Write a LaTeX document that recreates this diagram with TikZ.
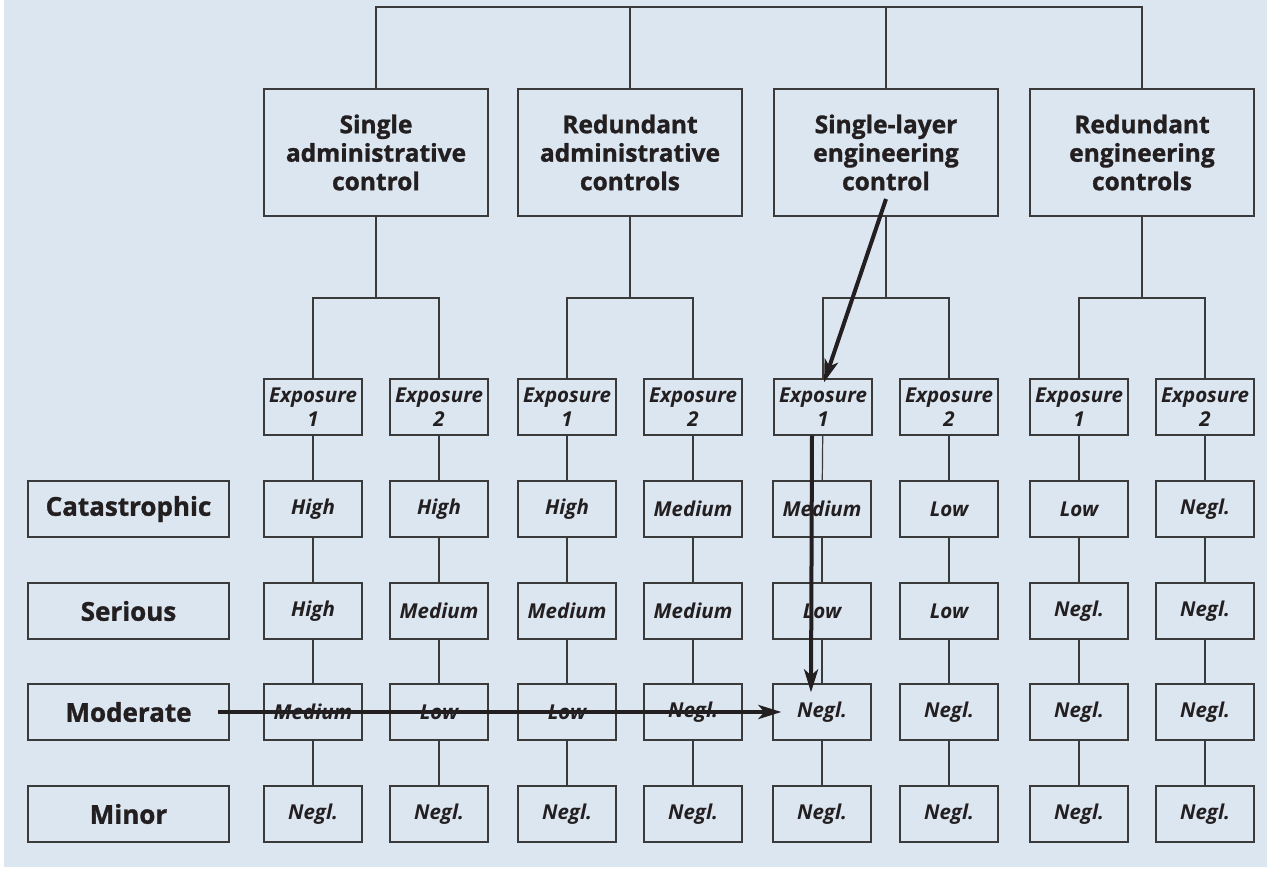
\documentclass[tikz,border=0pt]{standalone}
\usepackage{fontspec}
\setmainfont{Open Sans}[BoldFeatures={FakeBold=1.2}]
\usetikzlibrary{arrows.meta}
\definecolor{bg}{HTML}{DCE6F1}
\definecolor{ln}{HTML}{3A3A3A}
\definecolor{ar}{HTML}{231F20}
\begin{document}
\begin{tikzpicture}[x=1pt,y=-1pt,
  box/.style={draw=ln, line width=1.2pt, inner sep=0pt, align=center, text=ar},
  topbox/.style={box, minimum width=224pt, minimum height=127pt, font=\fontsize{24.5}{28.5}\selectfont\bfseries},
  expbox/.style={box, minimum width=98pt, minimum height=56pt, font=\fontsize{20.5}{24}\selectfont\bfseries\itshape},
  cellbox/.style={box, minimum width=98pt, minimum height=56pt, font=\fontsize{20.5}{24}\selectfont\bfseries\itshape},
  labbox/.style={box, minimum width=201pt, minimum height=56pt, font=\fontsize{26}{30}\selectfont\bfseries},
  conn/.style={draw=ln, line width=1.2pt},
  bigarrow/.style={draw=ar, line width=4pt, -{Stealth[length=23pt,width=14pt,inset=6pt]}}]
\useasboundingbox (0,0) rectangle (1267,868);
\fill[bg] (4,0) rectangle (1267,867);
% top boxes
\node[topbox] (t1) at (376,152.5) {Single\\administrative\\control};
\node[topbox] (t2) at (630,152.5) {Redundant\\administrative\\controls};
\node[topbox] (t3) at (886,152.5) {Single-layer\\engineering\\control};
\node[topbox] (t4) at (1142,152.5) {Redundant\\engineering\\controls};
\draw[conn] (t1.north) -- (t1.north |- 0,7) -- (t4.north |- 0,7) -- (t4.north);
\draw[conn] (t2.north) -- (t2.north |- 0,7);
\draw[conn] (t3.north) -- (t3.north |- 0,7);
% row labels
\node[labbox] (l1) at (128.5,509) {Catastrophic};
\node[labbox] (l2) at (128.5,611) {Serious};
\node[labbox] (l3) at (128.5,712) {Moderate};
\node[labbox] (l4) at (128.5,814) {Minor};
% exposure boxes
\foreach \c/\cx in {1/376,2/630,3/886,4/1142}{
  \foreach \j/\dx in {1/-63,2/63}{
    \node[expbox] (e\c\j) at (\cx+\dx,407) {Exposure\\\j};
  }
  \draw[conn] (t\c.south) -- (t\c.south |- 0,298);
  \draw[conn] (e\c1.north) -- (e\c1.north |- 0,298) -- (e\c2.north |- 0,298) -- (e\c2.north);
}
% cells
\foreach \c/\j/\x/\va/\vb/\vc/\vd in {
  1/1/313/High/High/Medium/Negl.,
  1/2/439/High/Medium/Low/Negl.,
  2/1/567/High/Medium/Low/Negl.,
  2/2/693/Medium/Medium/Negl./Negl.,
  3/1/822/Medium/Low/Negl./Negl.,
  3/2/949/Low/Low/Negl./Negl.,
  4/1/1079/Low/Negl./Negl./Negl.,
  4/2/1205/Negl./Negl./Negl./Negl.}{
  \node[cellbox] (v\c\j1) at (\x,509) {\va};
  \node[cellbox] (v\c\j2) at (\x,611) {\vb};
  \node[cellbox] (v\c\j3) at (\x,712) {\vc};
  \node[cellbox] (v\c\j4) at (\x,814) {\vd};
  \draw[conn] (e\c\j) -- (v\c\j1);
  \draw[conn] (v\c\j1) -- (v\c\j2);
  \draw[conn] (v\c\j2) -- (v\c\j3);
  \draw[conn] (v\c\j3) -- (v\c\j4);
}
% thick arrows
\coordinate (a1s) at (886,199);
\draw[bigarrow] (a1s) -- ([xshift=1pt,yshift=-4pt]e31.north);
\draw[bigarrow] ([xshift=-11pt]e31.south) -- ([xshift=-11pt,yshift=-9pt]v313.north);
\draw[bigarrow] ([xshift=-12pt]l3.east) -- ([xshift=9pt]v313.west);
\end{tikzpicture}
\end{document}
